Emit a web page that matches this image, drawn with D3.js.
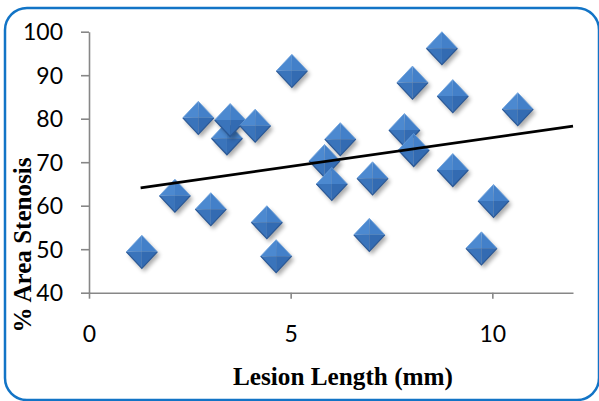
<!DOCTYPE html>
<html>
<head>
<meta charset="utf-8">
<script src="https://cdn.jsdelivr.net/npm/d3@7/dist/d3.min.js"></script>
<style>
  html, body { margin: 0; padding: 0; background: #ffffff; }
  svg { display: block; }
</style>
</head>
<body>
<svg id="chart" width="599" height="401"></svg>
<script>
// Lesion length (mm) and % area stenosis for each lesion
const lesionLength = [1.31, 2.13, 2.71, 3.02, 3.42, 3.50, 4.12, 4.41, 4.64, 5.03,
                      5.84, 6.02, 6.23, 6.95, 7.03, 7.82, 8.02, 8.05, 8.75, 9.02,
                      9.02, 9.73, 10.03, 10.63];
const areaStenosis = [49.4, 62.3, 80.2, 59.2, 75.5, 79.7, 78.4, 56.2, 48.4, 91.0,
                      70.3, 65.0, 75.3, 53.3, 66.3, 77.4, 88.3, 72.8, 96.2, 85.2,
                      68.2, 50.2, 61.1, 82.2];

// Linear trendline end points (x, y)
const trendX = [1.28, 12];
const trendY = [64.1, 78.3];

// Axis ticks
const xTicks = [0, 5, 10];
const yTicks = [40, 50, 60, 70, 80, 90, 100];

const xTitle = "Lesion Length (mm)";
const yTitle = "% Area Stenosis";

const svg = d3.select("#chart");

const x = d3.scaleLinear().domain([0, 12]).range([89, 573]);
const y = d3.scaleLinear().domain([40, 100]).range([292.7, 31.7]);

// Outer rounded frame
svg.append("rect")
  .attr("x", 5).attr("y", 8)
  .attr("width", 594).attr("height", 392)
  .attr("rx", 22).attr("ry", 22)
  .attr("fill", "#ffffff")
  .attr("stroke", "#1274c6")
  .attr("stroke-width", 2.5);

// Shadow filter for the markers
const defs = svg.append("defs");
const f = defs.append("filter").attr("id", "mshadow")
  .attr("x", "-50%").attr("y", "-50%").attr("width", "200%").attr("height", "200%");
f.append("feGaussianBlur").attr("stdDeviation", 2);

const axisColor = "#878787";
const numFont = "Lato, 'Open Sans', sans-serif";

// Y axis
const gy = svg.append("g")
  .attr("transform", `translate(${x(0)},0)`)
  .call(d3.axisLeft(y).tickValues(yTicks).tickSize(8).tickSizeOuter(0).tickPadding(18)
    .tickFormat(d3.format("d")));
gy.select(".domain").attr("stroke", axisColor).attr("stroke-width", 1.6);
gy.selectAll(".tick line").attr("stroke", axisColor).attr("stroke-width", 1.6);
gy.selectAll(".tick text")
  .attr("font-family", numFont).attr("font-size", 23).attr("fill", "#000")
  .attr("dy", "0.34em");

// X axis
const gx = svg.append("g")
  .attr("transform", `translate(0,${y(40)})`)
  .call(d3.axisBottom(x).tickValues(xTicks).tickSize(6).tickSizeOuter(0)
    .tickFormat(d3.format("d")));
gx.select(".domain").attr("stroke", axisColor).attr("stroke-width", 1.6);
gx.selectAll(".tick line").attr("stroke", axisColor).attr("stroke-width", 1.6);
gx.selectAll(".tick text")
  .attr("font-family", numFont).attr("font-size", 23).attr("fill", "#000")
  .attr("y", 49).attr("dy", 0);

// Diamond markers with bevelled faces
const hw = 15.5, hh = 16.5;
const pts = lesionLength.map((v, i) => [v, areaStenosis[i]]);
const marks = svg.append("g").selectAll("g.m").data(pts).join("g")
  .attr("class", "m")
  .attr("transform", d => `translate(${x(d[0])},${y(d[1])})`);

const diamond = `M0,${-hh}L${hw},0L0,${hh}L${-hw},0Z`;
marks.append("path")
  .attr("d", diamond)
  .attr("transform", "translate(2.5,3.5)")
  .attr("fill", "#000").attr("opacity", 0.33)
  .attr("filter", "url(#mshadow)");

const faces = [
  { d: `M0,${-hh}L${-hw},0L0,0Z`, c: "#4c89d0" },
  { d: `M0,${-hh}L${hw},0L0,0Z`,  c: "#4380c9" },
  { d: `M${-hw},0L0,${hh}L0,0Z`,  c: "#3a74bb" },
  { d: `M${hw},0L0,${hh}L0,0Z`,   c: "#336bb2" }
];
faces.forEach(fc => {
  marks.append("path").attr("d", fc.d).attr("fill", fc.c);
});
marks.append("path")
  .attr("d", `M${-hw},0L0,${hh}L${hw},0`)
  .attr("fill", "none").attr("stroke", "#2a5896").attr("stroke-width", 1.2);
marks.append("path")
  .attr("d", `M${-hw},0L0,${-hh}L${hw},0`)
  .attr("fill", "none").attr("stroke", "#6a9fdc").attr("stroke-width", 0.8);

// Trendline
svg.append("path")
  .datum(trendX.map((v, i) => [v, trendY[i]]))
  .attr("d", d3.line().x(d => x(d[0])).y(d => y(d[1])))
  .attr("fill", "none").attr("stroke", "#000").attr("stroke-width", 2.6);

// Axis titles
const titleFont = "'Liberation Serif', 'DejaVu Serif', serif";
const xt = svg.append("text")
  .attr("x", 343).attr("y", 385)
  .attr("text-anchor", "middle")
  .attr("font-family", titleFont).attr("font-weight", "bold")
  .attr("font-size", 20).attr("fill", "#000")
  .text(xTitle);
const xw = xt.node().getComputedTextLength();
xt.attr("font-size", 20 * 220 / xw);

const yt = svg.append("text")
  .attr("transform", "translate(31,245) rotate(-90)")
  .attr("text-anchor", "middle")
  .attr("font-family", titleFont).attr("font-weight", "bold")
  .attr("font-size", 20).attr("fill", "#000")
  .text(yTitle);
const yw = yt.node().getComputedTextLength();
yt.attr("font-size", 20 * 175 / yw);
</script>
</body>
</html>
